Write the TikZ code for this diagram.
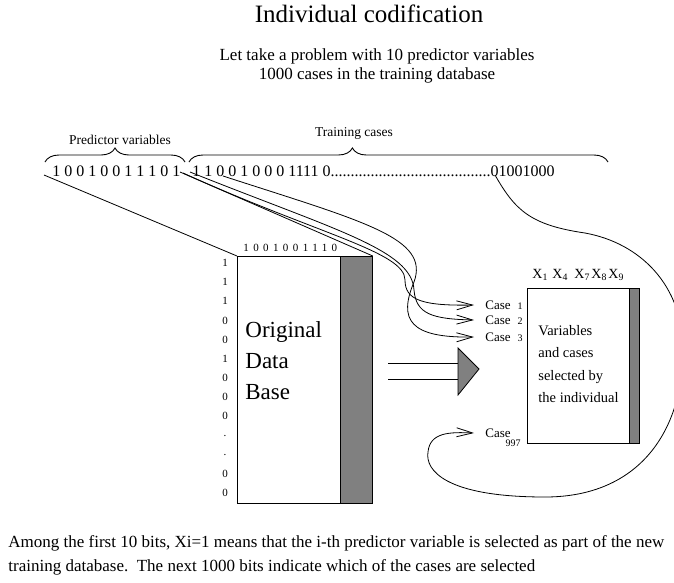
\documentclass[tikz,border=0pt]{standalone}
\usepackage{fontspec}
\setmainfont{Liberation Serif}
\usetikzlibrary{arrows.meta,decorations.pathreplacing,positioning}
\newcommand\fsz[2]{\fontsize{#1}{#2}\selectfont}

\begin{document}
\begin{tikzpicture}[x=1pt,y=-1pt,line width=0.8pt,
	bit/.style={inner sep=0pt,font=\fsz{11}{13}},
	dbbox/.style={draw,fill=white,inner sep=0pt},
	stripe/.style={draw,fill=gray,inner sep=0pt},
	casebox/.style={anchor=west,inner xsep=11pt,inner ysep=1pt,font=\fsz{13}{15}},
	caseline/.style={-{Straight Barb[length=16pt,width=9pt]}},
	bracetop/.style={decorate,line width=0.9pt,decoration={brace,amplitude=14pt,aspect=#1}}]
	\clip (0,0) rectangle (674,582);
	\node[anchor=base,font=\fsz{25}{30}] (title) at (369,22) {Individual codification};
	\node[anchor=north,align=center,font=\fsz{17}{19}] (intro) at (377,45) {Let take a problem with 10 predictor variables\\1000 cases in the training database};
	\node[anchor=base west,inner sep=0pt,font=\fsz{16}{19}] (bits) at (52,176) {1 0 0 1 0 0 1 1 1 0 1\hspace{12pt}1 1 0 0 1 0 0 0 1111 0........................................01001000};
	\draw[bracetop=0.5] (45,162) -- (185,162);
	\draw[bracetop=0.39] (189,162) -- (608,162);
	\node[font=\fsz{13.5}{16}] (predlab) at (120,140) {Predictor variables};
	\node[font=\fsz{13.5}{16}] (trainlab) at (354,133) {Training cases};
	\coordinate (bL) at (44,175);
	\coordinate (bR) at (180,172);
	\coordinate (b1) at (183,173);
	\coordinate (b2) at (190,172);
	\coordinate (b3) at (223,176);
	\coordinate (bend) at (495,175);

	\node[dbbox,minimum width=135pt,minimum height=247pt,anchor=north west] (odb) at (237,256) {};
	\node[stripe,minimum width=32pt,minimum height=247pt,anchor=north east] (odbbar) at (odb.north east) {};
	\node[anchor=north west,align=left,inner sep=0pt,font=\fsz{23}{31}] (odbtext) at (245,321) {Original\\Data\\Base};
	\node[anchor=base west,inner sep=0pt,font=\fsz{11}{13}\addfontfeatures{LetterSpace=40}] (odbvars) at (243,251) {1001001110};
	\foreach \d [count=\i] in {1,1,1,0,0,1,0,0,0,.,.,0,0}
		\node[bit] (row\i) at (225,{263+19.17*(\i-1)}) {\d};
	\draw (bL) -- (odb.north west);
	\draw (bR) -- (odb.north east);

	\node[dbbox,minimum width=112pt,minimum height=155pt,anchor=north west] (sel) at (527,288) {};
	\node[stripe,minimum width=10pt,minimum height=155pt,anchor=north east] (selbar) at (sel.north east) {};
	\node[anchor=north west,align=left,inner sep=0pt,font=\fsz{14.5}{22.5}] (seltext) at (538,325) {Variables\\and cases\\selected by\\the individual};
	\foreach \x/\k in {532/1,552/4,574/7,591/8,608/9}
		\node[anchor=base west,inner sep=0pt,font=\fsz{14}{16}] (x\k) at (\x,278) {X\textsubscript{\k}};

	\node[casebox] (case1) at (474,305) {Case\hspace{7pt}{\fsz{10}{12}1}};
	\node[casebox] (case2) at (474,320) {Case\hspace{7pt}{\fsz{10}{12}2}};
	\node[casebox] (case3) at (474,337) {Case\hspace{7pt}{\fsz{10}{12}3}};
	\node[casebox] (case997) at (474,433) {Case\hspace{-5pt}\raisebox{-9pt}[0pt][0pt]{\fsz{10}{12}997}};

	\draw[caseline] (b1) .. controls (320,235) and (405,252) .. (405,280) .. controls (405,300) and (422,306) .. (case1.west);
	\draw[caseline] (b2) .. controls (335,230) and (412,250) .. (414,290) .. controls (416,314) and (432,319) .. (case2.west);
	\draw[caseline] (b3) .. controls (365,222) and (430,238) .. (414,282) .. controls (398,320) and (410,338) .. (case3.west);
	\draw[caseline] (bend) .. controls (515,210) and (530,225) .. (585,233) .. controls (640,243) and (683,285) .. (683,350) .. controls (683,430) and (640,497) .. (545,497) .. controls (445,497) and (425,470) .. (428,452) .. controls (430,432) and (450,432) .. (case997.west);

	\draw (388,363) -- (458,363) (388,379) -- (458,379);
	\filldraw[fill=gray] (458,348) -- (479,369) -- (458,395) -- cycle;

	\node[anchor=north west,align=left,inner sep=0pt,font=\fsz{17}{24}] (note) at (8,535) {Among the first 10 bits, Xi=1 means that the i-th predictor variable is selected as part of the new\\training database.\ \ The next 1000 bits indicate which of the cases are selected};
\end{tikzpicture}
\end{document}
